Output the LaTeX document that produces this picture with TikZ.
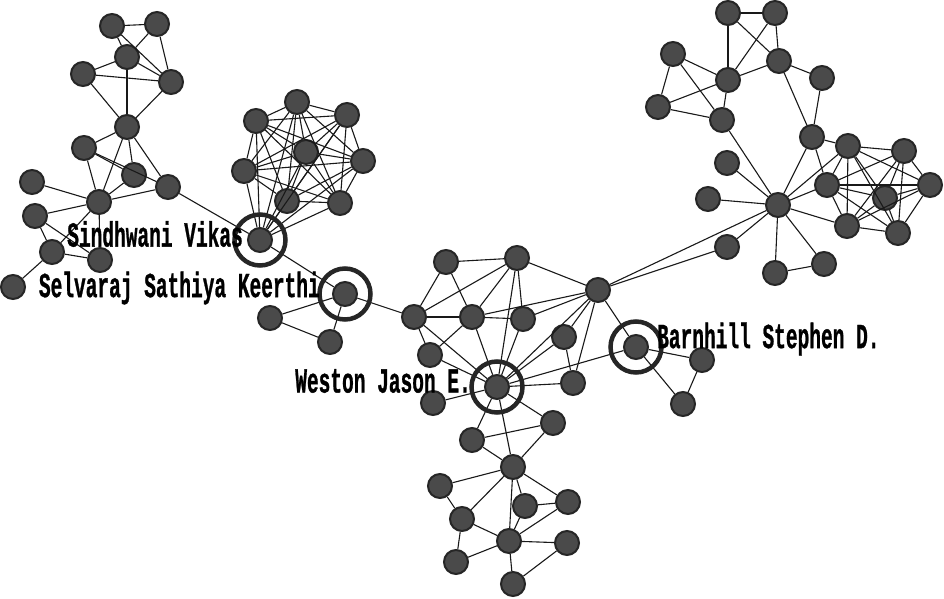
\documentclass[tikz,border=0pt]{standalone}
\usepackage{fontspec}
\setmonofont[BoldFeatures={FakeBold=1.2}]{Liberation Mono}
\usetikzlibrary{positioning}
\definecolor{nodefill}{HTML}{4A4A4A}
\definecolor{nodeline}{HTML}{262626}
\newcommand{\tallname}[1]{\scalebox{1}[1.8]{#1}}

\begin{document}
\begin{tikzpicture}
  [
  x=1pt, y=-1pt,
  vertex/.style={circle, inner sep=0pt, minimum size=24pt, fill=nodefill, draw=nodeline, line width=2pt},
  link/.style={line width=1.1pt, draw=black!90},
  ring/.style={circle, inner sep=0pt, minimum size=51pt, draw=nodeline, line width=4.5pt},
  authorlabel/.style={inner sep=0pt, font=\ttfamily\bfseries\fontsize{19.5}{20}\selectfont}
  ]
  \useasboundingbox (0,0) rectangle (944,599);

  % left group
  \foreach \n/\x/\y in {a1/112/26, a2/157/24, a3/127/57, a4/83/74, a5/171/82,
      a6/127/127, a7/84/148, a8/134/175, a9/168/187, a10/32/182, a11/99/202,
      a12/35/216, a13/52/252, a14/100/260, a15/13/287} {
    \node[vertex] (\n) at (\x,\y) {};
  }

  % clique round Sindhwani
  \node[vertex] (sv) at (260,240) {};
  \foreach \n/\x/\y in {b1/297/102, b2/256/121, b3/347/115, b4/306/152,
      b5/363/161, b6/244/171, b7/287/201, b8/340/203} {
    \node[vertex] (\n) at (\x,\y) {};
  }

  \node[vertex] (sk) at (345,294) {};
  \node[vertex] (s1) at (270,318) {};
  \node[vertex] (s2) at (330,342) {};

  % middle
  \node[vertex] (wj) at (497,387) {};
  \node[vertex] (bs) at (636,347) {};
  \foreach \n/\x/\y in {c0/414/317, c1/446/262, c2/517/258, c3/472/317,
      c4/523/319, c5/598/290, c6/430/355, c7/564/337, c8/573/383, c9/433/403,
      f1/702/360, f2/683/404} {
    \node[vertex] (\n) at (\x,\y) {};
  }

  % bottom
  \foreach \n/\x/\y in {d3/472/440, d4/553/423, d5/513/467, d6/440/486,
      d7/525/506, d8/568/502, d9/462/519, d10/509/541, d11/567/543,
      d12/456/562, d13/513/584} {
    \node[vertex] (\n) at (\x,\y) {};
  }

  % right
  \node[vertex] (eh) at (778,205) {};
  \foreach \n/\x/\y in {e1/728/13, e2/775/13, e3/673/54, e4/728/80, e5/779/61,
      e6/822/78, e7/658/107, e8/722/120, e9/812/137, e10/848/146, e11/904/151,
      e12/727/163, e13/827/185, e14/930/185, e15/708/199, e16/885/198,
      e17/727/247, e18/847/226, e19/898/233, e20/824/264, e21/775/273} {
    \node[vertex] (\n) at (\x,\y) {};
  }

  % connectors
  \foreach \u/\v in {a1/a2, a1/a3, a1/a5, a2/a3, a2/a5, a3/a4, a3/a5, a3/a6,
      a4/a5, a4/a6, a5/a6, a6/a7, a6/a8, a6/a9, a6/a11, a7/a8, a7/a9, a7/a11,
      a8/a11, a9/a11, a10/a11, a11/a12, a11/a13, a11/a14, a12/a13, a12/a14,
      a13/a14, a13/a15, a9/sv, sv/sk, sk/s1, sk/s2, s1/s2}
    \draw[link] (\u) -- (\v);

  \foreach \u [count=\i] in {sv,b1,b2,b3,b4,b5,b6,b7,b8} {
    \foreach \v [count=\j] in {sv,b1,b2,b3,b4,b5,b6,b7,b8} {
      \ifnum\i<\j \draw[link] (\u) -- (\v); \fi
    }
  }

  \foreach \u/\v in {sk/c0, c0/c1, c0/c2, c0/c3, c0/c6, c0/wj, c1/c2, c1/c3,
      c2/c3, c2/c4, c2/c5, c2/wj, c3/c4, c3/c5, c3/c6, c3/wj, c4/c5, c4/wj,
      c5/c7, c5/wj, c5/c8, c5/bs, c6/wj, c7/c8, c7/wj, c8/wj, c9/wj, wj/bs,
      bs/f1, bs/f2, f1/f2}
    \draw[link] (\u) -- (\v);

  \foreach \u/\v in {wj/d3, wj/d4, wj/d5, d3/d4, d3/d5, d4/d5, d5/d6, d5/d7,
      d5/d8, d5/d9, d5/d10, d6/d9, d7/d8, d7/d10, d8/d10, d9/d10, d9/d12,
      d10/d12, d10/d11, d10/d13, d11/d13}
    \draw[link] (\u) -- (\v);

  \foreach \u/\v in {c5/eh, c5/e17, e17/eh, e1/e2, e1/e4, e1/e5, e2/e4, e2/e5,
      e3/e4, e3/e7, e3/e8, e4/e5, e4/e7, e4/e8, e5/e6, e5/e9, e6/e9, e7/e8,
      e8/eh, e9/eh, e9/e10, e9/e13, e12/eh, e15/eh, e21/eh, e20/eh, e20/e21,
      e13/eh, e10/eh, e18/eh}
    \draw[link] (\u) -- (\v);

  \foreach \u [count=\i] in {e10,e11,e13,e14,e16,e18,e19} {
    \foreach \v [count=\j] in {e10,e11,e13,e14,e16,e18,e19} {
      \ifnum\i<\j \draw[link] (\u) -- (\v); \fi
    }
  }

  % rings and names
  \node[ring] (rsv) at (sv) {};
  \node[ring] (rsk) at (sk) {};
  \node[ring] (rwj) at (wj) {};
  \node[ring] (rbs) at (bs) {};

  \node[authorlabel, anchor=east] (lsv) at (243,234) {\tallname{Sindhwani Vikas}};
  \node[authorlabel, anchor=east] (lsk) at (320,288) {\tallname{Selvaraj Sathiya Keerthi}};
  \node[authorlabel, anchor=east] (lwj) at (471,381) {\tallname{Weston Jason E.}};
  \node[authorlabel, anchor=west] (lbs) at (657,339) {\tallname{Barnhill Stephen D.}};
\end{tikzpicture}
\end{document}
